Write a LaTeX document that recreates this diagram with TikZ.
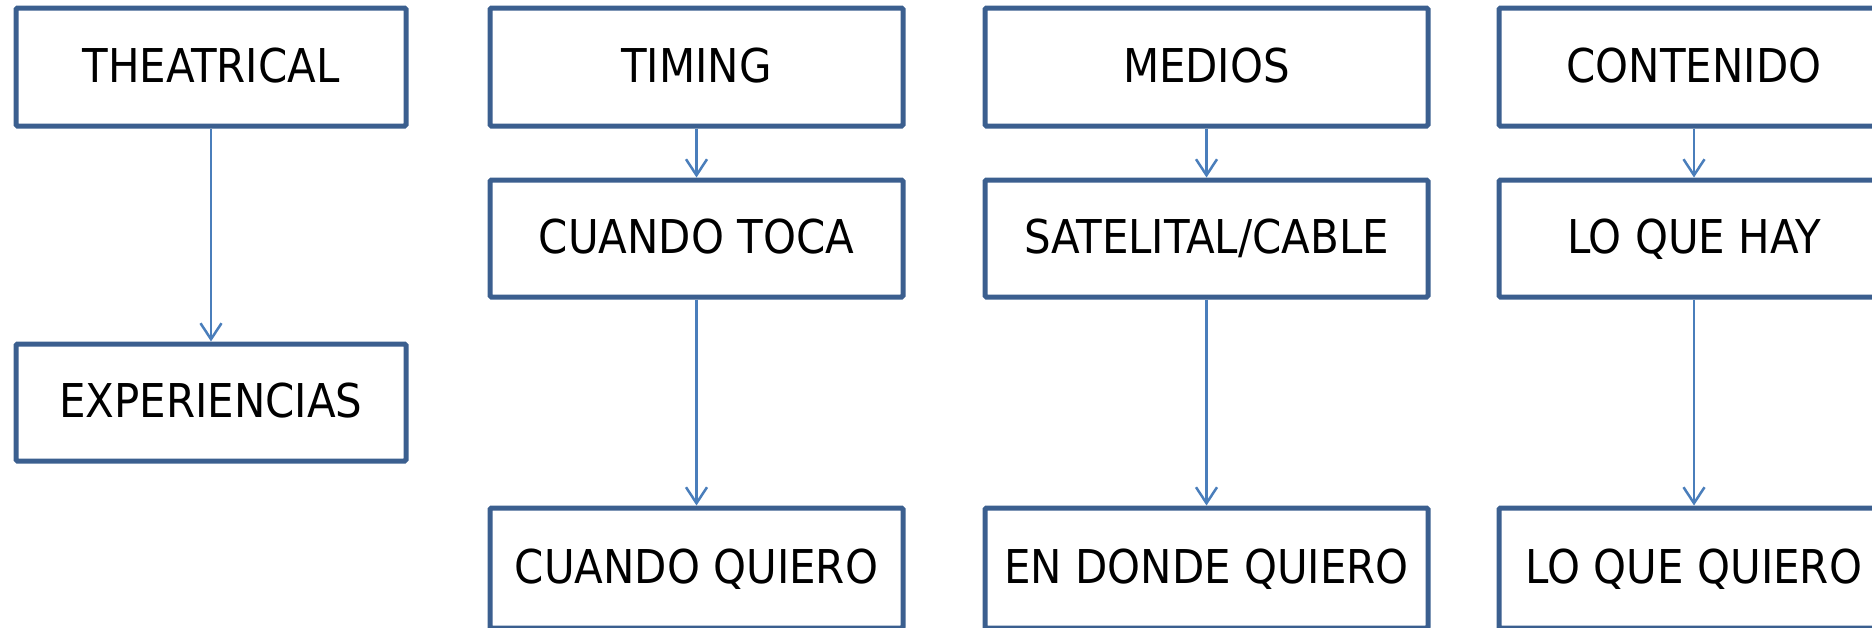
\documentclass[tikz,border=0pt]{standalone}
\usepackage{fontspec}
\setmainfont{DejaVu Sans Condensed}
\usetikzlibrary{arrows.meta}
\definecolor{boxline}{HTML}{3B5F8F}
\definecolor{arrowline}{HTML}{4A7EBB}
\begin{document}
\begin{tikzpicture}[x=1pt,y=-1pt,
  box/.style={draw=boxline, fill=white, line width=5pt, rounded corners=1.5pt,
    inner sep=0pt, text=black, font=\fontsize{46.6}{50}\selectfont,
    text height=34pt, text depth=4pt},
  link/.style={draw=arrowline, line width=2.5pt,
    -{Straight Barb[length=16pt,width=21pt,line width=2.5pt]}}]
\useasboundingbox (0,0) rectangle (1872,627);
% column 1
\node[box, minimum width=390pt, minimum height=118pt] (theatrical) at (211,67) {THEATRICAL};
\node[box, minimum width=390pt, minimum height=117pt] (experiencias) at (211,402.5) {EXPERIENCIAS};
% column 2
\node[box, minimum width=413pt, minimum height=118pt] (timing) at (696.5,67) {TIMING};
\node[box, minimum width=413pt, minimum height=117pt] (cuandotoca) at (696.5,238.5) {CUANDO TOCA};
\node[box, minimum width=413pt, minimum height=120pt] (cuandoquiero) at (696.5,568) {CUANDO QUIERO};
% column 3
\node[box, minimum width=443pt, minimum height=118pt] (medios) at (1206.5,67) {MEDIOS};
\node[box, minimum width=443pt, minimum height=117pt] (satelital) at (1206.5,238.5) {SATELITAL/CABLE};
\node[box, minimum width=443pt, minimum height=120pt] (dondequiero) at (1206.5,568) {EN DONDE QUIERO};
% column 4
\node[box, minimum width=390pt, minimum height=118pt] (contenido) at (1694,67) {CONTENIDO};
\node[box, minimum width=390pt, minimum height=117pt] (loquehay) at (1694,238.5) {LO QUE HAY};
\node[box, minimum width=390pt, minimum height=120pt] (loquequiero) at (1694,568) {LO QUE QUIERO};
% connectors
\draw[link] (theatrical.south) -- (experiencias.north);
\draw[link] (timing.south) -- (cuandotoca.north);
\draw[link] (cuandotoca.south) -- (cuandoquiero.north);
\draw[link] (medios.south) -- (satelital.north);
\draw[link] (satelital.south) -- (dondequiero.north);
\draw[link] (contenido.south) -- (loquehay.north);
\draw[link] (loquehay.south) -- (loquequiero.north);
\end{tikzpicture}
\end{document}
